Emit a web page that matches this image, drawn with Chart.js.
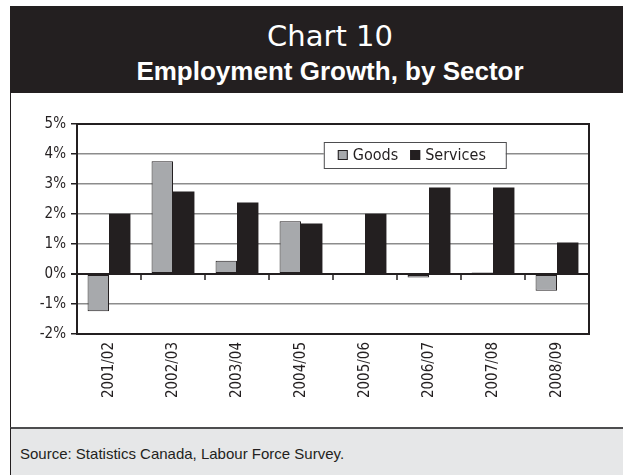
<!DOCTYPE html>
<html>
<head>
<meta charset="utf-8">
<script src="https://cdn.jsdelivr.net/npm/chart.js@4"></script>
<style>
    html, body { margin: 0; padding: 0; background: #ffffff; }
    #page { position: relative; width: 623px; height: 475px; overflow: hidden; }
    #header {
        position: absolute; left: 10px; top: 6px; width: 640px; height: 87px;
        background: #231f20; color: #ffffff; text-align: center;
    }
    #header .num { position: absolute; left: 0; right: 0; top: 13px; font: 29px "DejaVu Sans", sans-serif; }
    #header .ttl { position: absolute; left: 0; right: 0; top: 50px; font: bold 26px "Liberation Sans", Arial, sans-serif; }
    #body-border { position: absolute; left: 10px; top: 93px; width: 1px; height: 335px; background: #231f20; }
    #footer {
        position: absolute; left: 10px; top: 427px; width: 613px; height: 48px;
        background: #e6e7e8; border-top: 2px solid #4d4d4f; border-left: 1px solid #231f20;
    }
    #footer span { position: absolute; left: 9px; top: 16px; font: 15px "Liberation Sans", Arial, sans-serif; color: #231f20; }
    #chart-box { position: absolute; left: 11px; top: 93px; width: 612px; height: 335px; }
</style>
</head>
<body>
<div id="page">
    <div id="header">
        <div class="num">Chart 10</div>
        <div class="ttl">Employment Growth, by Sector</div>
    </div>
    <div id="body-border"></div>
    <div id="chart-box"><canvas id="growth-chart" width="612" height="335"></canvas></div>
    <div id="footer"><span>Source: Statistics Canada, Labour Force Survey.</span></div>
</div>
<script>
// fiscal years
const years = ["2001/02", "2002/03", "2003/04", "2004/05", "2005/06", "2006/07", "2007/08", "2008/09"];

// employment growth, per cent
const goods = [-1.24, 3.76, 0.44, 1.76, 0, -0.12, 0.05, -0.56];
const services = [2.01, 2.75, 2.38, 1.68, 2.01, 2.88, 2.88, 1.05];

const y_ticks = [-2, -1, 0, 1, 2, 3, 4, 5];

const INK = '#231f20';

// frame round the plot, small ticks on the zero line, legend box inside the plot
const frame_plugin = {
    id: 'frame',
    afterDatasetsDraw(chart) {
        const ctx = chart.ctx;
        const area = chart.chartArea;
        const x = chart.scales.x;
        const zero = chart.scales.y.getPixelForValue(0);

        ctx.save();
        ctx.strokeStyle = INK;
        ctx.lineWidth = 2;
        ctx.strokeRect(area.left, area.top, area.right - area.left, area.bottom - area.top);

        ctx.lineWidth = 1.5;
        ctx.beginPath();
        for (let i = 1; i < years.length; i++) {
            let px = (x.getPixelForValue(i - 1) + x.getPixelForValue(i)) / 2;
            ctx.moveTo(px, zero);
            ctx.lineTo(px, zero + 6);
        }
        ctx.stroke();

        // legend
        const lx = area.left + (area.right - area.left) * 0.482;
        const ly = area.top + 18;
        const lw = 182, lh = 26;
        ctx.fillStyle = '#ffffff';
        ctx.fillRect(lx, ly, lw, lh);
        ctx.strokeStyle = '#4d4d4f';
        ctx.lineWidth = 1;
        ctx.strokeRect(lx + 0.5, ly + 0.5, lw, lh);

        ctx.font = '16px "DejaVu Sans Condensed", "DejaVu Sans", sans-serif';
        ctx.textBaseline = 'middle';
        let cx = lx + 14;
        chart.data.datasets.forEach((ds) => {
            ctx.fillStyle = ds.backgroundColor;
            ctx.fillRect(cx, ly + 8, 10, 10);
            ctx.strokeStyle = INK;
            ctx.strokeRect(cx + 0.5, ly + 8.5, 9, 9);
            ctx.fillStyle = INK;
            ctx.fillText(ds.label, cx + 15, ly + lh / 2 + 1);
            cx += 15 + ctx.measureText(ds.label).width + 12;
        });
        ctx.restore();
    }
};

new Chart(document.getElementById('growth-chart'), {
    type: 'bar',
    data: {
        labels: years,
        datasets: [
            {
                label: 'Goods',
                data: goods,
                backgroundColor: '#a7a9ac',
                borderColor: INK,
                borderWidth: 1,
                borderSkipped: false
            },
            {
                label: 'Services',
                data: services,
                backgroundColor: INK,
                borderColor: INK,
                borderWidth: 0
            }
        ]
    },
    options: {
        responsive: false,
        animation: false,
        layout: { padding: { top: 31, right: 34, left: 0, bottom: 0 } },
        datasets: {
            bar: { categoryPercentage: 0.67, barPercentage: 1.0 }
        },
        plugins: {
            legend: { display: false },
            tooltip: { enabled: false }
        },
        scales: {
            x: {
                grid: { display: false, drawTicks: false },
                border: { display: false },
                ticks: {
                    minRotation: 90,
                    maxRotation: 90,
                    padding: 8,
                    color: INK,
                    font: { family: '"DejaVu Sans Condensed", "DejaVu Sans", sans-serif', size: 15 }
                },
                afterFit(scale) { scale.height = 94; }
            },
            y: {
                min: -2,
                max: 5,
                afterBuildTicks(scale) {
                    scale.ticks = y_ticks.map((v) => ({ value: v }));
                },
                grid: {
                    color: (c) => (c.tick && c.tick.value === 0) ? INK : '#8c8c8c',
                    lineWidth: (c) => (c.tick && c.tick.value === 0) ? 2 : 1.5,
                    tickColor: INK,
                    tickLength: 6,
                    drawTicks: true
                },
                border: { display: false },
                ticks: {
                    padding: 5,
                    color: INK,
                    font: { family: '"DejaVu Sans Condensed", "DejaVu Sans", sans-serif', size: 15 },
                    callback: (v) => v + '%'
                },
                afterFit(scale) { scale.width = 66; }
            }
        }
    },
    plugins: [frame_plugin]
});
</script>
</body>
</html>
